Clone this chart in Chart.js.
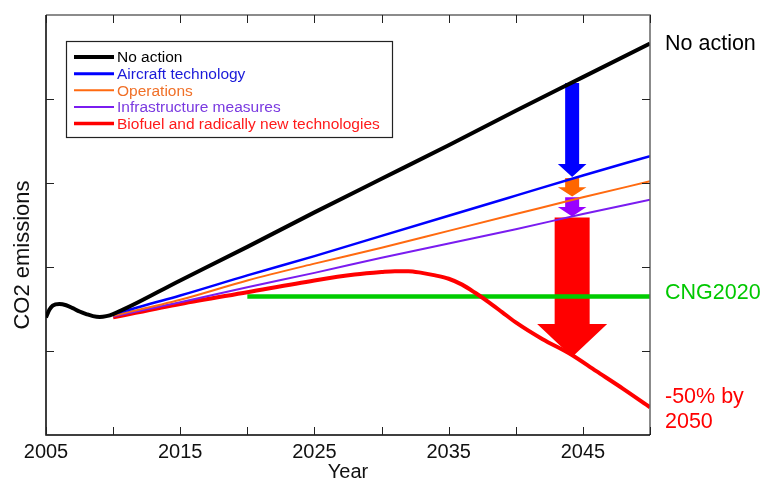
<!DOCTYPE html>
<html>
<head>
<meta charset="utf-8">
<script src="https://cdn.jsdelivr.net/npm/chart.js@4.4.1/dist/chart.umd.min.js"></script>
<style>
  html, body { margin: 0; padding: 0; background: #fff; }
  #wrap { width: 764px; height: 479px; position: relative; }
</style>
</head>
<body>
<div id="wrap"><canvas id="co2"></canvas></div>
<script>
// series values (CO2 emissions, arbitrary units)
const noActionYears = [2005, 2005.25, 2005.5, 2006, 2006.5, 2007, 2007.5, 2008, 2008.5, 2009, 2009.5, 2010, 2015, 2020, 2025, 2030, 2035, 2040, 2045, 2050];
const noAction      = [1.40, 1.49, 1.54, 1.56, 1.545, 1.51, 1.47, 1.44, 1.415, 1.405, 1.415, 1.44, 1.84, 2.24, 2.65, 3.05, 3.45, 3.86, 4.26, 4.66];

const measureYears  = [2010, 2015, 2020, 2025, 2030, 2035, 2040, 2045, 2050];
const aircraft      = [1.44, 1.66, 1.90, 2.13, 2.37, 2.61, 2.85, 3.09, 3.32];
const operations    = [1.42, 1.61, 1.84, 2.04, 2.23, 2.43, 2.63, 2.83, 3.02];
const infra         = [1.41, 1.58, 1.76, 1.93, 2.11, 2.28, 2.45, 2.63, 2.80];

const biofuelYears  = [2010, 2015, 2020, 2025, 2028, 2030, 2031, 2032, 2033, 2034, 2035, 2036, 2037, 2038, 2039, 2040, 2042, 2044, 2046, 2048, 2050];
const biofuel       = [1.40, 1.56, 1.70, 1.84, 1.91, 1.94, 1.95, 1.95, 1.93, 1.90, 1.86, 1.79, 1.69, 1.58, 1.46, 1.34, 1.14, 0.97, 0.76, 0.55, 0.33];

const cngYears = [2020, 2050];
const cng      = [1.65, 1.65];

const xLabelYears = [2005, 2015, 2025, 2035, 2045];
const xTickYears  = [2005, 2010, 2015, 2020, 2025, 2030, 2035, 2040, 2045, 2050];
const yTickValues = [1, 2, 3, 4];

// reduction arrows at 2044: [from, to]
const arrowYear = 2044.2;
const arrowSteps = [
  { from: 4.19, to: 3.07, color: '#0000ff', big: false },
  { from: 3.06, to: 2.84, color: '#ff6600', big: false },
  { from: 2.83, to: 2.60, color: '#9900ff', big: false },
  { from: 2.59, to: 0.93, color: '#ff0000', big: true }
];

const FONT = "'Liberation Sans', Arial, sans-serif";

const pts = (xs, ys) => xs.map((x, i) => ({ x: x, y: ys[i] }));

const series = [
  { label: 'No action', xs: noActionYears, ys: noAction, color: '#000000', text: '#000000', width: 4, legendWidth: 4 },
  { label: 'Aircraft technology', xs: measureYears, ys: aircraft, color: '#0000ff', text: '#1a1ad9', width: 2.5, legendWidth: 3 },
  { label: 'Operations', xs: measureYears, ys: operations, color: '#ff6a10', text: '#f07028', width: 2, legendWidth: 2 },
  { label: 'Infrastructure measures', xs: measureYears, ys: infra, color: '#7a1cf0', text: '#7a3ae0', width: 2, legendWidth: 2 },
  { label: 'Biofuel and radically new technologies', xs: biofuelYears, ys: biofuel, color: '#ff0000', text: '#ff1a1a', width: 4, legendWidth: 3.5 }
];

const datasets = series.map(s => ({
  label: s.label,
  data: pts(s.xs, s.ys),
  borderColor: s.color,
  borderWidth: s.width,
  pointRadius: 0,
  cubicInterpolationMode: 'monotone',
  fill: false
}));
datasets.push({
  label: 'CNG2020',
  data: pts(cngYears, cng),
  borderColor: '#00cc00',
  borderWidth: 4.5,
  pointRadius: 0,
  fill: false
});

// arrows behind the lines
const arrowPlugin = {
  id: 'arrows',
  beforeDatasetsDraw(chart) {
    const { ctx, scales: { x, y } } = chart;
    const cx = x.getPixelForValue(arrowYear);
    ctx.save();
    arrowSteps.forEach(a => {
      const y0 = y.getPixelForValue(a.from);
      const y1 = y.getPixelForValue(a.to);
      const shaft = a.big ? 17.5 : 7;
      const head = a.big ? 35 : 14.3;
      const headLen = a.big ? 33 : Math.min(13, (y1 - y0) * 0.5);
      ctx.fillStyle = a.color;
      ctx.beginPath();
      ctx.moveTo(cx - shaft, y0);
      ctx.lineTo(cx + shaft, y0);
      ctx.lineTo(cx + shaft, y1 - headLen);
      ctx.lineTo(cx + head, y1 - headLen);
      ctx.lineTo(cx, y1);
      ctx.lineTo(cx - head, y1 - headLen);
      ctx.lineTo(cx - shaft, y1 - headLen);
      ctx.closePath();
      ctx.fill();
    });
    ctx.restore();
  }
};

// frame, inward ticks, titles, legend box and end labels
const decorPlugin = {
  id: 'decor',
  afterDraw(chart) {
    const { ctx, chartArea: ca, scales: { x, y } } = chart;
    ctx.save();

    // frame
    ctx.lineWidth = 1.5;
    ctx.strokeStyle = '#666';
    ctx.beginPath();
    ctx.moveTo(ca.left, ca.top); ctx.lineTo(ca.right, ca.top); ctx.lineTo(ca.right, ca.bottom);
    ctx.stroke();
    ctx.strokeStyle = '#000';
    ctx.beginPath();
    ctx.moveTo(ca.left, ca.top); ctx.lineTo(ca.left, ca.bottom); ctx.lineTo(ca.right, ca.bottom);
    ctx.stroke();

    // ticks pointing inwards
    ctx.lineWidth = 1;
    ctx.strokeStyle = '#222';
    ctx.beginPath();
    xTickYears.forEach(v => {
      const px = Math.round(x.getPixelForValue(v)) + 0.5;
      ctx.moveTo(px, ca.bottom); ctx.lineTo(px, ca.bottom - 8);
      ctx.moveTo(px, ca.top); ctx.lineTo(px, ca.top + 8);
    });
    yTickValues.forEach(v => {
      const py = Math.round(y.getPixelForValue(v)) + 0.5;
      ctx.moveTo(ca.left, py); ctx.lineTo(ca.left + 8, py);
      ctx.moveTo(ca.right, py); ctx.lineTo(ca.right - 8, py);
    });
    ctx.stroke();

    // axis titles
    ctx.fillStyle = '#111';
    ctx.font = '20px ' + FONT;
    ctx.textAlign = 'center';
    ctx.textBaseline = 'middle';
    ctx.fillText('Year', (ca.left + ca.right) / 2, 472);
    ctx.font = '22px ' + FONT;
    ctx.save();
    ctx.translate(23, 255);
    ctx.rotate(-Math.PI / 2);
    ctx.fillText('CO2 emissions', 0, 0);
    ctx.restore();

    // legend
    const lx = 66, ly = 41, lw = 326, lh = 96;
    ctx.lineWidth = 1.2;
    ctx.strokeStyle = '#222';
    ctx.strokeRect(lx + 0.5, ly + 0.5, lw, lh);
    ctx.font = '15.5px ' + FONT;
    ctx.textAlign = 'left';
    ctx.textBaseline = 'middle';
    series.forEach((s, i) => {
      const ry = ly + 16 + i * 16.65;
      ctx.strokeStyle = s.color;
      ctx.lineWidth = s.legendWidth;
      ctx.beginPath();
      ctx.moveTo(lx + 8, ry); ctx.lineTo(lx + 48, ry);
      ctx.stroke();
      ctx.fillStyle = s.text;
      ctx.fillText(s.label, lx + 51, ry + 1);
    });

    // end labels
    ctx.font = '21.5px ' + FONT;
    const tx = ca.right + 15;
    ctx.fillStyle = '#000';
    ctx.fillText('No action', tx, y.getPixelForValue(noAction[noAction.length - 1]) + 1);
    ctx.fillStyle = '#00c800';
    ctx.fillText('CNG2020', tx, y.getPixelForValue(cng[1]) - 3);
    ctx.fillStyle = '#ff0000';
    const ry = y.getPixelForValue(biofuel[biofuel.length - 1]);
    ctx.fillText('-50% by', tx, ry - 10);
    ctx.fillText('2050', tx, ry + 15);

    ctx.restore();
  }
};

new Chart(document.getElementById('co2'), {
  type: 'line',
  data: { datasets: datasets },
  plugins: [arrowPlugin, decorPlugin],
  options: {
    responsive: true,
    maintainAspectRatio: false,
    animation: false,
    layout: { padding: { top: 15, right: 114, left: 0, bottom: 0 } },
    plugins: {
      legend: { display: false },
      tooltip: { enabled: false }
    },
    scales: {
      x: {
        type: 'linear',
        min: 2005,
        max: 2050,
        afterFit: s => { s.height = 44; },
        afterBuildTicks: s => { s.ticks = xLabelYears.map(v => ({ value: v })); },
        grid: { display: false, drawTicks: false },
        border: { display: false },
        ticks: {
          color: '#111',
          font: { size: 20, family: FONT },
          padding: 5,
          maxRotation: 0,
          autoSkip: false,
          callback: v => String(v)
        }
      },
      y: {
        min: 0,
        max: 5,
        afterFit: s => { s.width = 46; },
        grid: { display: false, drawTicks: false },
        border: { display: false },
        ticks: { display: false }
      }
    }
  }
});
</script>
</body>
</html>
